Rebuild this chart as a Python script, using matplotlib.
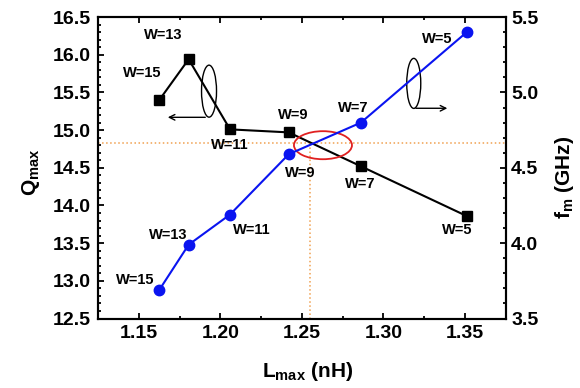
import matplotlib
matplotlib.use("Agg")
import matplotlib.pyplot as plt
from matplotlib.patches import Ellipse
from matplotlib.ticker import MultipleLocator, FormatStrFormatter

plt.rcParams['font.family'] = ['Liberation Sans', 'DejaVu Sans']
plt.rcParams['font.weight'] = 'bold'
plt.rcParams['mathtext.fontset'] = 'custom'
plt.rcParams['mathtext.bf'] = 'Liberation Sans:bold'
plt.rcParams['mathtext.rm'] = 'Liberation Sans:bold'
plt.rcParams['mathtext.default'] = 'bf'

# Data
widths = ["W=15", "W=13", "W=11", "W=9", "W=7", "W=5"]
L_max = [1.1626, 1.1806, 1.2060, 1.2420, 1.2863, 1.3512]
Q_max = [15.40, 15.94, 15.01, 14.97, 14.52, 13.86]
f_m = [3.69, 3.99, 4.19, 4.59, 4.80, 5.40]

fig = plt.figure(figsize=(5.8, 3.88), dpi=100)
ax = fig.add_axes([0.169, 0.179, 0.7026, 0.777])
ax2 = ax.twinx()

ax.plot(L_max, Q_max, color='black', lw=1.5, marker='s', ms=6.5, zorder=3)
ax2.plot(L_max, f_m, color='#0a14f0', lw=1.5, marker='o', ms=7.5, zorder=3)

ax.set_xlim(1.125, 1.375)
ax.set_ylim(12.5, 16.5)
ax2.set_ylim(3.5, 5.5)

ax.xaxis.set_major_locator(MultipleLocator(0.05))
ax.xaxis.set_minor_locator(MultipleLocator(0.025))
ax.yaxis.set_major_locator(MultipleLocator(0.5))
ax.yaxis.set_minor_locator(MultipleLocator(0.1))
ax2.yaxis.set_major_locator(MultipleLocator(0.5))
ax2.yaxis.set_minor_locator(MultipleLocator(0.1))
ax.xaxis.set_major_formatter(FormatStrFormatter('%.2f'))
ax.yaxis.set_major_formatter(FormatStrFormatter('%.1f'))
ax2.yaxis.set_major_formatter(FormatStrFormatter('%.1f'))

for a in (ax, ax2):
    for s in a.spines.values():
        s.set_linewidth(1.5)
ax.tick_params(axis='both', which='both', direction='in', top=True, right=False, width=1.3)
ax.tick_params(axis='both', which='major', length=4, labelsize=14, pad=5)
ax.tick_params(axis='both', which='minor', length=2.5)
ax2.tick_params(axis='y', which='both', direction='in', width=1.3)
ax2.tick_params(axis='y', which='major', length=4, labelsize=14, pad=4)
ax2.tick_params(axis='y', which='minor', length=2.5)

ax.set_xlabel(r'L$_{\mathbf{max}}$ (nH)', fontsize=15, fontweight='bold')
ax.set_ylabel(r'Q$_{\mathbf{max}}$', fontsize=15, fontweight='bold')
ax2.set_ylabel(r'f$_{\mathbf{m}}$ (GHz)', fontsize=15, fontweight='bold')
ax.xaxis.set_label_coords(0.514, -0.138)
ax.yaxis.set_label_coords(-0.137, 0.484)
ax2.yaxis.set_label_coords(1.117, 0.469)

# dotted guide lines
oc = '#f0a050'
ax.axhline(14.823, color=oc, ls=':', lw=1.1, zorder=1)
ax.plot([1.2553, 1.2553], [12.5, 14.823], color=oc, ls=':', lw=1.1, zorder=1)

# red ellipse
ax.add_patch(Ellipse((1.263, 14.80), 0.0356, 0.372, fill=False, ec='#e02020', lw=1.3, zorder=4))

# black ellipses with arrows
ax.add_patch(Ellipse((1.1931, 15.517), 0.0092, 0.69, fill=False, ec='black', lw=1.0, zorder=4))
ax.annotate('', xy=(1.1661, 15.17), xytext=(1.1925, 15.17),
            arrowprops=dict(arrowstyle='->', color='black', lw=1.0))
ax.add_patch(Ellipse((1.3187, 15.62), 0.0086, 0.664, fill=False, ec='black', lw=1.0, zorder=4))
ax.annotate('', xy=(1.341, 15.29), xytext=(1.3183, 15.29),
            arrowprops=dict(arrowstyle='->', color='black', lw=1.0))

# labels (in left-axis data coords)
sq_lab_L = [1.152, 1.1649, 1.206, 1.2446, 1.2857, 1.3452]
sq_lab_Q = [15.756, 16.26, 14.80, 15.20, 14.28, 13.67]
ci_lab_L = [1.1477, 1.168, 1.2195, 1.249, 1.2814, 1.333]
ci_lab_Q = [13.007, 13.605, 13.67, 14.43, 15.30, 16.21]
for w, x, y in zip(widths, sq_lab_L, sq_lab_Q):
    ax2.text(x, y, w, transform=ax.transData, fontsize=10.5, fontweight='bold',
             ha='center', va='center', zorder=6)
for w, x, y in zip(widths, ci_lab_L, ci_lab_Q):
    ax2.text(x, y, w, transform=ax.transData, fontsize=10.5, fontweight='bold',
             ha='center', va='center', zorder=6)

fig.savefig('out.png', dpi=100)
